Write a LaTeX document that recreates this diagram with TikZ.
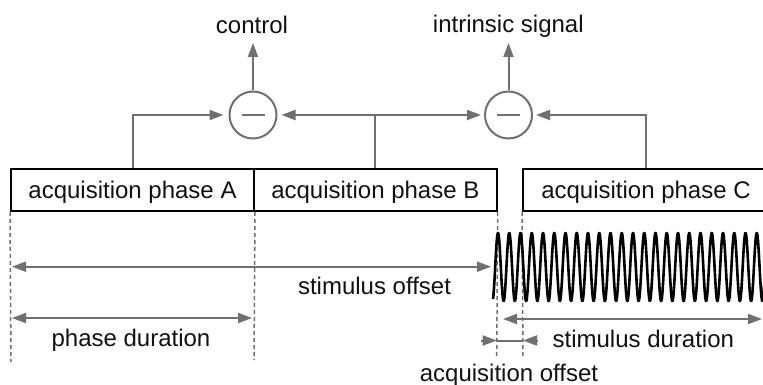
\documentclass[tikz,border=0pt]{standalone}
\usepackage{fontspec}
\setmainfont{Liberation Sans}
\usetikzlibrary{arrows.meta}
\definecolor{linegray}{RGB}{112,112,112}
\definecolor{ink}{RGB}{17,17,17}
\tikzset{
  lbl/.style={font=\fontsize{24}{28}\selectfont, text=ink, inner sep=0pt, anchor=base},
  phasebox/.style={draw=black, line width=2pt, minimum height=42pt, inner sep=0pt,
    text height=16pt, text depth=0pt, font=\fontsize{24}{28}\selectfont, text=ink},
  subtract/.style={circle, draw=linegray, line width=2pt, minimum size=47pt, inner sep=0pt},
  tip/.style={-{Triangle[length=14pt,width=10pt]}},
  arr/.style={draw=linegray, line width=2pt, tip},
  darr/.style={draw=linegray, line width=2pt, {Triangle[length=14pt,width=10pt]}-{Triangle[length=14pt,width=10pt]}},
  guide/.style={draw=linegray, line width=1.5pt, dash pattern=on 4pt off 3pt},
}
\begin{document}
\begin{tikzpicture}[x=1pt,y=-1pt]
\useasboundingbox (0,0) rectangle (763,385);
\clip (0,0) rectangle (763,385);

% acquisition phases
\node[phasebox, minimum width=243pt] (boxA) at (132.5,190) {acquisition phase A};
\node[phasebox, minimum width=242.7pt] (boxB) at (375.35,190) {acquisition phase B};
\node[phasebox, minimum width=246pt] (boxC) at (646,190) {acquisition phase C};

% subtraction stages
\node[subtract] (m1) at (253,115) {};
\node[subtract] (m2) at (508.5,115) {};
\foreach \m in {m1,m2}
  \draw[linegray, line width=2pt] ([xshift=-11.5pt]\m.center) -- ([xshift=11.5pt]\m.center);

% outputs
\coordinate (o1) at (253,43);
\coordinate (o2) at (508.5,43);
\draw[arr] (m1.north) -- (o1);
\draw[arr] (m2.north) -- (o2);
\node[lbl] (ctl) at (252,33.5) {control};
\node[lbl] (sig) at (508.3,33) {intrinsic signal};

% inputs to the subtractions
\draw[arr, shorten >=5pt] (boxA.north) |- (m1);
\draw[arr, shorten >=4pt] (boxB.north) |- (m1);
\draw[arr, shorten >=3pt] (boxB.north) |- (m2);
\draw[arr, shorten >=3pt] (boxC.north) |- (m2);

% timing guides
\coordinate (gA) at (11,362);
\coordinate (gB) at (254,360);
\coordinate (gC) at (496.7,358);
\coordinate (gD) at (523,358);
\draw[guide] (boxA.south west) -- (gA);
\draw[guide] (boxA.south east) -- (gB);
\draw[guide] (boxB.south east) -- (gC);
\draw[guide] (boxC.south west) -- (gD);

% stimulus
\draw[black, line width=2.6pt, line join=round]
  plot[domain=493:772, samples=1400] (\x, {267 - 34*cos((\x-498)/11.25*360)});

% intervals
\coordinate (so1) at (12,266.7);
\coordinate (so2) at (491,266.7);
\draw[darr] (so1) -- (so2);
\node[lbl] (soL) at (374.5,294) {stimulus offset};

\coordinate (pd1) at (12,318);
\coordinate (pd2) at (252,318);
\draw[darr] (pd1) -- (pd2);
\node[lbl] (pdL) at (131,346) {phase duration};

\coordinate (sd1) at (503,319);
\coordinate (sd2) at (762,319);
\draw[darr] (sd1) -- (sd2);
\node[lbl] (sdL) at (643.3,347) {stimulus duration};

\coordinate (ao0) at (481,340.5);
\coordinate (ao1) at (496.7,340.5);
\coordinate (ao2) at (523,340.5);
\coordinate (ao3) at (538,340.5);
\draw[arr] (ao0) -- (ao1);
\draw[arr] (ao3) -- (ao2);
\draw[linegray, line width=2pt] (ao1) -- (ao2);
\node[lbl] (aoL) at (509,381) {acquisition offset};
\end{tikzpicture}
\end{document}
